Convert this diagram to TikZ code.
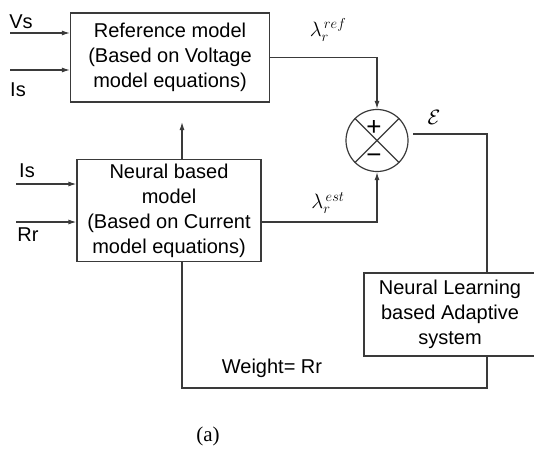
\documentclass[tikz,border=0pt]{standalone}
\usepackage{fontspec}
\setmainfont{Liberation Sans}
\newfontfamily\capfont{Liberation Serif}
\usetikzlibrary{arrows.meta}
\definecolor{linegray}{HTML}{3A3A3A}
\tikzset{
  block/.style={draw=linegray, line width=1.2pt, align=center, inner sep=0pt,
    font=\fontsize{20}{25}\selectfont},
  wire/.style={draw=linegray, line width=1.2pt},
  feed/.style={wire, -{Latex[length=8pt,width=5pt]}},
  lbl/.style={inner sep=0pt, font=\fontsize{20}{25}\selectfont},
  sign/.style={inner sep=0pt, font=\fontsize{26}{26}\selectfont},
}

\begin{document}
\begin{tikzpicture}[x=1pt,y=-1pt]
  \useasboundingbox (0,0) rectangle (534,450);

  \node[block, minimum width=199pt, minimum height=89pt] (ref) at (170,57.5)
    {Reference model\\(Based on Voltage\\model equations)};
  \node[block, minimum width=184pt, minimum height=102pt] (nn) at (169,210.5)
    {Neural based\\model\\(Based on Current\\model equations)};
  \node[block, minimum width=172pt, minimum height=83pt] (lrn) at (450,314.5)
    {Neural Learning\\based Adaptive\\system};

  \node[circle, wire, minimum size=62pt, inner sep=0pt] (sum) at (377,140.5) {};
  \draw[wire] (sum.north west) -- (sum.south east)
              (sum.north east) -- (sum.south west);
  \node[sign] (plus) at ([xshift=-3pt,yshift=13pt]sum.center) {+};
  \node[sign] (minus) at ([xshift=-3pt,yshift=-18pt]sum.center) {−};

  \coordinate (vs) at (10,33);
  \coordinate (is) at (10,70);
  \coordinate (is2) at (16,184);
  \coordinate (rr) at (16,222);
  \coordinate (err) at (413,134);
  \coordinate (fbr) at (487,388);
  \coordinate (fbl) at (182,388);
  \coordinate (up) at (182,122);

  \draw[feed] (vs) -- (vs -| ref.west);
  \draw[feed] (is) -- (is -| ref.west);
  \draw[feed] (is2) -- (is2 -| nn.west);
  \draw[feed] (rr) -- (rr -| nn.west);
  \draw[feed] (ref.east) -| (sum.north);
  \draw[feed] (rr -| nn.east) -| (sum.south);
  \draw[wire] (err) -| (fbr |- lrn.north);
  \draw[wire] (fbr |- lrn.south) -- (fbr) -- (fbl) -- (fbl |- nn.south);
  \draw[feed] (fbl |- nn.north) -- (up);

  \node[lbl] (vslbl) at (21,22) {Vs};
  \node[lbl] (islbl) at (18,90) {Is};
  \node[lbl] (is2lbl) at (27,171) {Is};
  \node[lbl] (rrlbl) at (28,235) {Rr};
  \node[lbl] (lref) at (328,30) {$\lambda^{\,ref}_{r}$};
  \node[lbl] (lest) at (328,203) {$\lambda^{\,est}_{r}$};
  \node[lbl] (eps) at (434,117) {$\mathcal{E}$};
  \node[lbl] (wt) at (272,368) {Weight= Rr};
  \node[inner sep=0pt, font=\capfont\fontsize{21}{25}\selectfont] (cap) at (208,436) {(a)};
\end{tikzpicture}
\end{document}
